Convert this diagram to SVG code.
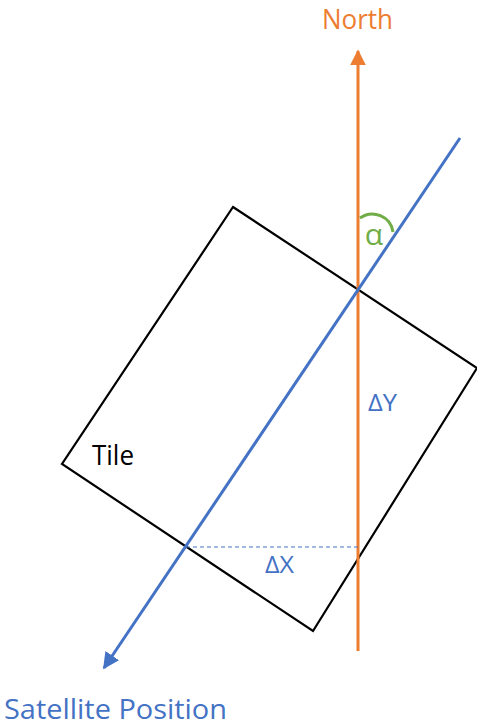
<svg xmlns="http://www.w3.org/2000/svg" width="477" height="727" viewBox="0 0 477 727">
<defs>
<marker id="ao" viewBox="0 0 10 10" refX="9" refY="5" markerWidth="5.3" markerHeight="5.3" orient="auto" markerUnits="strokeWidth"><path d="M0,0 L10,5 L0,10 z" fill="#ED7D31"/></marker>
<marker id="ab" viewBox="0 0 10 10" refX="9" refY="5" markerWidth="5.5" markerHeight="5.5" orient="auto" markerUnits="strokeWidth"><path d="M0,0 L10,5 L0,10 z" fill="#4472C4"/></marker>
</defs>
<style>
text{font-family:"Open Sans","Liberation Sans",sans-serif}
.o{fill:#ED7D31}.b{fill:#4472C4}.g{fill:#70AD47}.k{fill:#000}
</style>
<rect width="477" height="727" fill="#fff"/>
<g id="tile">
<polygon points="233,207 477,368 313,631 62,464" fill="none" stroke="#000" stroke-width="2.2"/>
<text class="k" x="92" y="465" font-size="28" textLength="42" lengthAdjust="spacingAndGlyphs">Tile</text>
</g>
<g id="connectors">
<line x1="358" y1="651" x2="358" y2="51" stroke="#ED7D31" stroke-width="3" marker-end="url(#ao)"/>
<line x1="460" y1="138" x2="104" y2="668" stroke="#4472C4" stroke-width="3" marker-end="url(#ab)"/>
<line x1="186" y1="547" x2="358" y2="547" stroke="#4472C4" stroke-width="1" stroke-dasharray="4,3"/>
<path d="M360,218 A21,21 0 0 1 393,232" fill="none" stroke="#70AD47" stroke-width="3"/>
</g>
<g id="north"><text class="o" x="322" y="29" font-size="27" textLength="71" lengthAdjust="spacingAndGlyphs">North</text></g>
<g id="alpha"><text class="g" x="374" y="245" font-size="30" text-anchor="middle">α</text></g>
<g id="dy"><text class="b" x="368" y="411" font-size="23" textLength="29" lengthAdjust="spacingAndGlyphs">ΔY</text></g>
<g id="dx"><text class="b" x="265" y="573" font-size="23" textLength="29" lengthAdjust="spacingAndGlyphs">ΔX</text></g>
<g id="sat"><text class="b" x="4" y="719" font-size="27" textLength="223" lengthAdjust="spacingAndGlyphs">Satellite Position</text></g>
</svg>
